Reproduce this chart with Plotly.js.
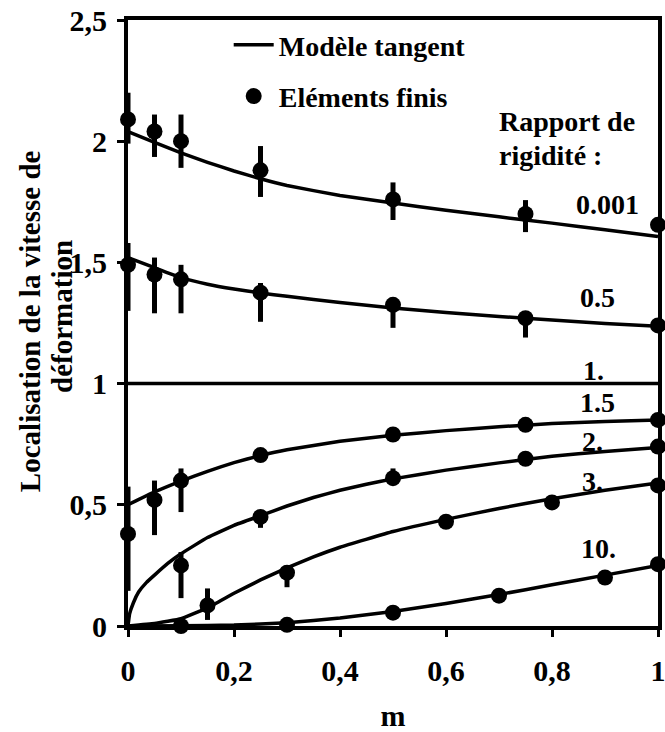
<!DOCTYPE html>
<html><head><meta charset="utf-8">
<script src="https://cdn.plot.ly/plotly-3.0.1.min.js"></script>
<style>html,body{margin:0;padding:0;background:#fff}#chart{width:665px;height:732px}</style>
</head><body><div id="chart"></div>
<script>
// ---- ticks ----
const xTickVals = [0, 0.2, 0.4, 0.6, 0.8, 1];
const xTickText = ["0", "0,2", "0,4", "0,6", "0,8", "1"];
const yTickVals = [0, 0.5, 1, 1.5, 2, 2.5];
const yTickText = ["0", "0,5", "1", "1,5", "2", "2,5"];

// ---- Modèle tangent (curves) ----
const m001X = [0, 0.05, 0.1, 0.15, 0.2, 0.25, 0.3, 0.4, 0.5, 0.6, 0.7, 0.8, 0.9, 1];
const m001Y = [2.04, 1.995, 1.952, 1.913, 1.877, 1.845, 1.817, 1.776, 1.745, 1.715, 1.688, 1.662, 1.635, 1.607];
const m05X = [0, 0.05, 0.1, 0.15, 0.2, 0.25, 0.3, 0.4, 0.5, 0.6, 0.7, 0.8, 0.9, 1];
const m05Y = [1.52, 1.478, 1.437, 1.41, 1.39, 1.374, 1.36, 1.335, 1.312, 1.293, 1.277, 1.262, 1.248, 1.237];
const m1X = [0, 1];
const m1Y = [1, 1];
const m15X = [0, 0.05, 0.1, 0.15, 0.2, 0.25, 0.3, 0.4, 0.5, 0.6, 0.7, 0.8, 0.9, 1];
const m15Y = [0.5, 0.553, 0.598, 0.638, 0.674, 0.703, 0.727, 0.762, 0.787, 0.806, 0.822, 0.835, 0.844, 0.85];
const m2X = [0, 0.003, 0.01, 0.02, 0.035, 0.05, 0.075, 0.1, 0.15, 0.2, 0.25, 0.3, 0.35, 0.4, 0.45, 0.5, 0.6, 0.7, 0.8, 0.9, 1];
const m2Y = [0, 0.05, 0.095, 0.14, 0.18, 0.21, 0.258, 0.298, 0.365, 0.415, 0.455, 0.495, 0.53, 0.56, 0.585, 0.607, 0.643, 0.673, 0.70, 0.72, 0.736];
const m3X = [0, 0.05, 0.1, 0.15, 0.2, 0.25, 0.3, 0.35, 0.4, 0.5, 0.6, 0.7, 0.8, 0.9, 1];
const m3Y = [0, 0.01, 0.03, 0.075, 0.135, 0.19, 0.24, 0.285, 0.325, 0.39, 0.44, 0.485, 0.525, 0.56, 0.59];
const m10X = [0, 0.1, 0.2, 0.3, 0.4, 0.5, 0.6, 0.7, 0.8, 0.9, 1];
const m10Y = [0, 0.001, 0.004, 0.013, 0.033, 0.06, 0.093, 0.13, 0.17, 0.21, 0.25];

// ---- Eléments finis (points with error bars) ----
const fe001X = [0, 0.05, 0.1, 0.25, 0.5, 0.75, 1];
const fe001Y = [2.09, 2.04, 2.0, 1.88, 1.76, 1.70, 1.655];
const fe001Plus = [0.11, 0.07, 0.11, 0.10, 0.07, 0.057, 0];
const fe001Minus = [0.10, 0.105, 0.11, 0.11, 0.085, 0.075, 0];

const fe05X = [0, 0.05, 0.1, 0.25, 0.5, 0.75, 1];
const fe05Y = [1.49, 1.45, 1.43, 1.375, 1.325, 1.27, 1.24];
const fe05Plus = [0.09, 0.07, 0.06, 0.04, 0.02, 0, 0];
const fe05Minus = [0.19, 0.16, 0.14, 0.12, 0.095, 0.08, 0];

const fe15X = [0, 0.05, 0.1, 0.25, 0.5, 0.75, 1];
const fe15Y = [0.38, 0.52, 0.60, 0.705, 0.79, 0.83, 0.85];
const fe15Plus = [0.195, 0.08, 0.05, 0, 0, 0, 0];
const fe15Minus = [0.235, 0.145, 0.13, 0, 0, 0, 0];

const fe2X = [0.1, 0.25, 0.5, 0.75, 1];
const fe2Y = [0.25, 0.45, 0.61, 0.69, 0.74];
const fe2Plus = [0.055, 0.02, 0.04, 0, 0];
const fe2Minus = [0.135, 0.045, 0, 0, 0];

const fe3X = [0.1, 0.15, 0.3, 0.6, 0.8, 1];
const fe3Y = [0.0, 0.085, 0.22, 0.43, 0.51, 0.58];
const fe3Plus = [0, 0.07, 0.03, 0, 0, 0];
const fe3Minus = [0, 0.06, 0.06, 0, 0, 0];

const fe10X = [0.3, 0.5, 0.7, 0.9, 1];
const fe10Y = [0.005, 0.055, 0.125, 0.2, 0.255];

// ---- texts ----
const labelTexts = ["0.001", "0.5", "1.", "1.5", "2.", "3.", "10."];
const labelX = [0.904, 0.885, 0.879, 0.885, 0.877, 0.877, 0.887];
const labelY = [1.737, 1.357, 1.056, 0.92, 0.763, 0.598, 0.318];
const legendNames = ["Modèle tangent", "Eléments finis"];
const headerLines = ["Rapport de", "rigidité :"];
const yTitleLines = ["Localisation de la vitesse de", "déformation"];
const xTitle = "m";

const FONT = 'Liberation Serif, Times New Roman, serif';
const f = (s) => ({family: FONT, size: s, color: '#000', weight: 'bold'});

const modelSets = [[m001X, m001Y], [m05X, m05Y], [m1X, m1Y], [m15X, m15Y], [m2X, m2Y], [m3X, m3Y], [m10X, m10Y]];
const feSets = [
  [fe001X, fe001Y, fe001Plus, fe001Minus],
  [fe05X, fe05Y, fe05Plus, fe05Minus],
  [fe15X, fe15Y, fe15Plus, fe15Minus],
  [fe2X, fe2Y, fe2Plus, fe2Minus],
  [fe3X, fe3Y, fe3Plus, fe3Minus],
  [fe10X, fe10Y, fe10X.map(() => 0), fe10X.map(() => 0)]
];

const traces = [];
modelSets.forEach((s, i) => {
  traces.push({
    x: s[0], y: s[1], type: 'scatter', mode: 'lines',
    line: {color: '#000', width: 3.5, shape: 'spline', smoothing: 0.3},
    name: legendNames[0], showlegend: i === 0, legendgroup: 'model',
    cliponaxis: false, hoverinfo: 'skip'
  });
});
feSets.forEach((s, i) => {
  traces.push({
    x: s[0], y: s[1], type: 'scatter', mode: 'markers',
    marker: {color: '#000', size: 16, symbol: 'circle'},
    error_y: {type: 'data', symmetric: false, array: s[2], arrayminus: s[3],
              color: '#000', thickness: 5, width: 0},
    name: legendNames[1], showlegend: i === 0, legendgroup: 'fe',
    cliponaxis: false, hoverinfo: 'skip'
  });
});

const annotations = labelTexts.map((t, i) => ({
  x: labelX[i], y: labelY[i], xref: 'x', yref: 'y', text: t, showarrow: false,
  font: f(28), xanchor: 'center', yanchor: 'middle'
}));
annotations.push({x: 0.696, y: 2.08, xref: 'x', yref: 'y', text: headerLines[0], showarrow: false,
  font: f(28), xanchor: 'left', yanchor: 'middle'});
annotations.push({x: 0.696, y: 1.94, xref: 'x', yref: 'y', text: headerLines[1], showarrow: false,
  font: f(28), xanchor: 'left', yanchor: 'middle'});
// y-axis title (two rotated lines)
annotations.push({x: -0.185, y: 0.503, xref: 'paper', yref: 'paper', text: yTitleLines[0], showarrow: false,
  font: f(29), textangle: -90, xanchor: 'center', yanchor: 'middle'});
annotations.push({x: -0.1245, y: 0.51, xref: 'paper', yref: 'paper', text: yTitleLines[1], showarrow: false,
  font: f(29), textangle: -90, xanchor: 'center', yanchor: 'middle'});

const layout = {
  width: 665, height: 732,
  margin: {l: 128, r: 7, t: 20, b: 106},
  paper_bgcolor: '#fff', plot_bgcolor: '#fff',
  font: f(28),
  showlegend: true,
  legend: {x: 0.19, y: 1.0, xanchor: 'left', yanchor: 'top', bgcolor: 'rgba(0,0,0,0)',
           font: f(28), traceorder: 'grouped', tracegroupgap: 12, itemwidth: 40},
  xaxis: {
    range: [0, 1], tickvals: xTickVals, ticktext: xTickText,
    showline: true, linewidth: 4, linecolor: '#000', mirror: true,
    ticks: 'outside', ticklen: 7, tickwidth: 3, tickcolor: '#000',
    showgrid: false, zeroline: false, tickfont: f(30), ticklabelstandoff: 8,
    ticklabeloverflow: 'allow',
    title: {text: xTitle, font: f(30), standoff: 32}
  },
  yaxis: {
    range: [0, 2.5], tickvals: yTickVals, ticktext: yTickText,
    showline: true, linewidth: 4, linecolor: '#000', mirror: true,
    ticks: 'outside', ticklen: 7, tickwidth: 3, tickcolor: '#000',
    showgrid: false, zeroline: false, tickfont: f(30), ticklabelstandoff: 4,
    ticklabeloverflow: 'allow'
  },
  annotations: annotations
};

Plotly.newPlot('chart', traces, layout, {displayModeBar: false, staticPlot: true});
</script>
</body></html>
